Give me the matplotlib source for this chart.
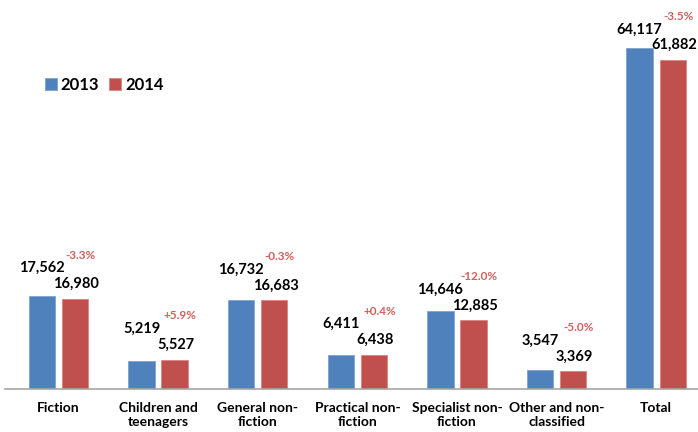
import matplotlib
matplotlib.use('Agg')
import matplotlib.pyplot as plt
import numpy as np

plt.rcParams['font.family'] = ['Lato', 'DejaVu Sans']

# data
categories = ['Fiction', 'Children and\nteenagers', 'General non-\nfiction',
              'Practical non-\nfiction', 'Specialist non-\nfiction',
              'Other and non-\nclassified', 'Total']
v2013 = [17562, 5219, 16732, 6411, 14646, 3547, 64117]
v2014 = [16980, 5527, 16683, 6438, 12885, 3369, 61882]
change = ['-3.3%', '+5.9%', '-0.3%', '+0.4%', '-12.0%', '-5.0%', '-3.5%']

blue = '#4F81BD'
red = '#C0504D'
pct_col = '#D2605B'

fig = plt.figure(figsize=(6.98, 4.32), dpi=100)
ax = fig.add_axes([5 / 698, 43 / 432, 693 / 698, 389 / 432])

x = np.arange(len(categories))
off = 0.166
w = 0.265
ax.bar(x - off, v2013, w, color=blue, edgecolor='#7FA3D0', linewidth=0.6, label='2013')
ax.bar(x + off, v2014, w, color=red, edgecolor='#D98480', linewidth=0.6, label='2014')

for i in range(len(x)):
    # 2014 value just above its bar
    ax.annotate(f'{v2014[i]:,}', (x[i] + off, v2014[i]), xytext=(1, 5.5),
                textcoords='offset points', ha='center', va='bottom',
                fontsize=10.5, fontweight='bold', color='black')
    # 2013 value placed a line above the 2014 one
    ax.annotate(f'{v2013[i]:,}', (x[i] - off, v2014[i]), xytext=(0, 17),
                textcoords='offset points', ha='center', va='bottom',
                fontsize=10.5, fontweight='bold', color='black')
    # percentage change
    ax.annotate(change[i], (x[i] + off, v2014[i]), xytext=(4, 27.5),
                textcoords='offset points', ha='center', va='bottom',
                fontsize=8.5, fontweight='bold', color=pct_col)

ax.set_xlim(-0.537, 6.42)
ax.set_ylim(0, 73150)
ax.set_yticks([])
ax.set_xticks(x)
ax.set_xticklabels(categories, fontsize=10, fontweight='bold', linespacing=1.3)
ax.tick_params(axis='x', length=0, pad=9)
for s in ['top', 'right', 'left']:
    ax.spines[s].set_visible(False)
ax.spines['bottom'].set_color('#A6A6A6')
ax.spines['bottom'].set_linewidth(1.2)

leg = ax.legend(loc='upper left', bbox_to_anchor=(30 / 698, 1 - 62 / 432),
                bbox_transform=fig.transFigure, ncol=2, frameon=False,
                handlelength=0.7, handleheight=0.7, handletextpad=0.25,
                columnspacing=0.6, prop={'size': 12, 'weight': 'bold'})

plt.savefig('out.png', dpi=100)
plt.close()
